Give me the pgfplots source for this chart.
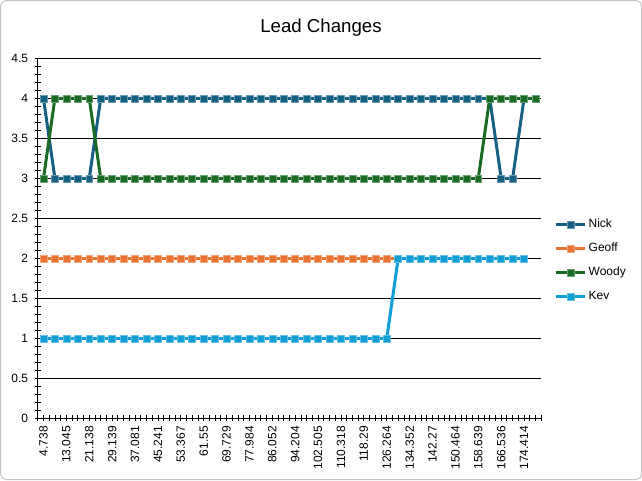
\documentclass[border=0pt]{standalone}
\usepackage{fontspec}
\setmainfont{Liberation Sans}
\usepackage{pgfplots}
\pgfplotsset{compat=1.18}
\usepackage{pgfplotstable}
\definecolor{cNick}{HTML}{156082}
\definecolor{cGeoff}{HTML}{E97132}
\definecolor{cWoody}{HTML}{196B24}
\definecolor{cKev}{HTML}{0F9ED5}
\pgfplotstableread{
cat nick geoff woody kev
0 4 2 3 1
1 3 2 4 1
2 3 2 4 1
3 3 2 4 1
4 3 2 4 1
5 4 2 3 1
6 4 2 3 1
7 4 2 3 1
8 4 2 3 1
9 4 2 3 1
10 4 2 3 1
11 4 2 3 1
12 4 2 3 1
13 4 2 3 1
14 4 2 3 1
15 4 2 3 1
16 4 2 3 1
17 4 2 3 1
18 4 2 3 1
19 4 2 3 1
20 4 2 3 1
21 4 2 3 1
22 4 2 3 1
23 4 2 3 1
24 4 2 3 1
25 4 2 3 1
26 4 2 3 1
27 4 2 3 1
28 4 2 3 1
29 4 2 3 1
30 4 2 3 1
31 4 2 3 2
32 4 2 3 2
33 4 2 3 2
34 4 2 3 2
35 4 2 3 2
36 4 2 3 2
37 4 2 3 2
38 4 2 3 2
39 4 2 4 2
40 3 2 4 2
41 3 2 4 2
42 4 2 4 2
43 nan nan 4 nan
}\data
\begin{document}
\begin{tikzpicture}[x=0.75pt,y=0.75pt]
\useasboundingbox (0,0) rectangle (642,480);
\draw[line width=0.75pt, gray!45, rounded corners=4pt] (0.5,0.5) rectangle (641.5,479.5);
\node[font=\fontsize{14}{16}\selectfont] at (321,452) {Lead Changes};
\begin{axis}[
  at={(33,77)}, anchor=south west, scale only axis,
  width=377.6pt, height=270pt,
  xmin=-0.5, xmax=43.5, ymin=0, ymax=4.5,
  ytick={0,0.5,1,1.5,2,2.5,3,3.5,4,4.5},
  minor y tick num=4,
  ymajorgrids, major grid style={black, line width=0.6pt},
  axis x line*=bottom, axis y line*=left,
  axis line style={black, line width=0.75pt, -},
  tick align=center, major tick length=4.5pt, minor tick length=4.5pt,
  tick style={black, line width=0.6pt},
  xtick={0,2,...,42},
  xticklabels={4.738,13.045,21.138,29.139,37.081,45.241,53.367,61.55,69.729,77.984,86.052,94.204,102.505,110.318,118.29,126.264,134.352,142.27,150.464,158.639,166.536,174.414},
  minor xtick={-0.5,0,...,43.5},
  xticklabel style={rotate=90, anchor=east, font=\fontsize{9}{10}\selectfont},
  yticklabel style={font=\fontsize{9}{10}\selectfont, xshift=-1.5pt},
  /pgf/number format/assume math mode=true,
  legend style={at={(1.025,0.569)}, anchor=north west, draw=none, fill=none,
    font=\fontsize{9}{10}\selectfont, row sep=6pt, inner xsep=0pt,
    nodes={inner xsep=1.5pt}},
  legend cell align=left,
  legend image code/.code={\draw[#1, mark repeat=2, mark phase=2] plot coordinates {(0cm,0cm)(0.39cm,0cm)(0.78cm,0cm)};},
  every axis plot/.append style={line width=2.25pt, line join=round},
]
\addplot[color=cNick, mark=square*, mark size=2.6pt, mark options={fill=cNick, draw=cNick!65!white, line width=0.4pt, solid}] table[x=cat,y=nick]{\data};
\addlegendentry{Nick}
\addplot[color=cGeoff, mark=square*, mark size=2.6pt, mark options={fill=cGeoff, draw=cGeoff!65!white, line width=0.4pt, solid}] table[x=cat,y=geoff]{\data};
\addlegendentry{Geoff}
\addplot[color=cWoody, mark=square*, mark size=2.6pt, mark options={fill=cWoody, draw=cWoody!65!white, line width=0.4pt, solid}] table[x=cat,y=woody]{\data};
\addlegendentry{Woody}
\addplot[color=cKev, mark=square*, mark size=2.6pt, mark options={fill=cKev, draw=cKev!65!white, line width=0.4pt, solid}] table[x=cat,y=kev]{\data};
\addlegendentry{Kev}
\end{axis}
\end{tikzpicture}
\end{document}
